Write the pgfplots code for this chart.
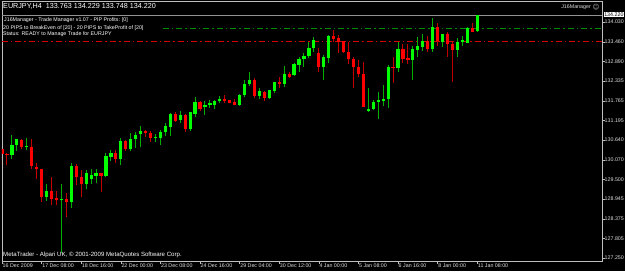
\documentclass[border=0pt]{standalone}
\usepackage{fontspec}
\setmainfont{Liberation Sans}
\newfontfamily\dejavu{DejaVu Sans}
\usepackage{pgfplots}
\pgfplotsset{compat=1.18}
\usepackage{pgfplotstable}
\definecolor{fg}{RGB}{225,225,225}
\definecolor{framec}{RGB}{190,190,190}
\definecolor{bullbody}{RGB}{0,255,0}
\definecolor{bullwick}{RGB}{0,175,0}
\definecolor{bearbody}{RGB}{255,0,0}
\definecolor{bearwick}{RGB}{195,0,0}
\definecolor{tpgreen}{RGB}{0,140,0}
\definecolor{slred}{RGB}{215,0,0}

\pgfplotstableread{
i O H L C
2 130.209 130.775 130.085 130.496
3 130.488 130.677 130.332 130.660
5 130.439 130.689 130.344 130.467
9 129.011 129.376 128.896 129.175
12 128.907 129.376 127.393 128.945
14 128.859 129.988 128.695 129.893
17 129.376 129.778 129.223 129.683
18 129.519 129.798 129.376 129.634
19 129.614 129.798 129.396 129.700
21 129.614 130.258 129.568 130.189
22 130.160 130.353 130.045 130.275
24 130.094 130.689 129.922 130.611
26 130.381 130.832 130.332 130.669
27 130.660 130.878 130.419 130.783
28 130.812 131.051 130.430 130.898
31 130.689 130.812 130.582 130.735
32 130.697 130.927 130.505 130.878
33 130.861 131.137 130.755 131.042
34 131.013 131.407 130.755 131.378
36 131.206 131.473 131.120 131.358
38 130.947 131.453 130.898 131.436
39 131.395 131.867 131.292 131.732
41 131.579 131.769 131.358 131.654
42 131.645 131.789 131.551 131.694
43 131.654 131.789 131.522 131.769
44 131.752 131.904 131.711 131.826
48 131.654 131.953 131.625 131.933
49 131.924 132.364 131.884 132.249
50 132.240 132.593 132.191 132.364
52 131.904 132.142 131.826 132.048
54 131.838 132.076 131.809 132.076
55 132.056 132.306 131.981 132.306
57 132.249 132.774 132.162 132.536
59 132.499 132.843 132.479 132.823
60 132.795 133.033 132.585 132.976
61 132.967 133.148 132.728 133.062
62 133.062 133.464 132.987 133.283
63 133.274 133.590 133.177 133.513
65 132.746 133.082 132.364 133.033
66 133.004 133.656 132.843 133.628
74 131.473 132.125 131.436 131.530
75 131.522 131.789 131.502 131.723
76 131.740 132.010 131.243 131.780
77 131.769 132.220 131.625 131.809
78 131.809 132.795 131.568 132.728
80 132.700 133.464 132.602 133.246
83 132.938 133.340 132.364 133.246
84 133.226 133.590 133.033 133.349
85 133.320 133.677 133.197 133.484
87 133.246 134.136 133.177 133.886
89 133.447 133.690 133.320 133.685
92 133.226 133.579 133.033 133.464
93 133.464 133.628 133.340 133.513
94 133.435 133.895 133.418 133.866
96 133.763 134.229 133.748 134.220
}\bull

\pgfplotstableread{
i O H L C
0 130.373 130.447 129.913 130.238
1 130.246 130.275 129.930 130.209
4 130.640 130.660 130.373 130.430
6 130.447 130.669 129.798 129.893
7 129.855 129.970 129.528 129.798
8 129.807 129.815 128.867 129.011
10 129.183 129.585 128.772 128.936
11 128.965 129.175 128.772 128.925
13 128.945 129.108 128.436 128.859
15 129.893 129.950 129.347 129.568
16 129.585 129.778 129.002 129.367
20 129.692 129.700 129.154 129.614
23 130.275 130.353 129.988 130.094
25 130.611 130.640 130.332 130.390
29 130.898 130.927 130.717 130.841
30 130.832 130.898 130.582 130.706
35 131.387 131.453 131.157 131.194
37 131.358 131.378 130.861 130.947
40 131.732 131.769 131.482 131.522
45 131.826 131.933 131.694 131.752
46 131.789 131.800 131.694 131.703
47 131.740 131.826 131.637 131.654
51 132.364 132.421 131.838 131.904
53 132.027 132.035 131.760 131.846
56 132.306 132.458 132.125 132.249
58 132.545 132.585 132.430 132.458
64 133.131 133.274 132.602 132.746
67 133.628 133.800 133.464 133.542
68 133.579 133.656 133.131 133.447
69 133.475 133.493 133.148 133.177
70 133.177 133.464 132.815 132.958
71 132.958 133.033 132.125 132.728
72 132.746 132.938 132.458 132.536
73 132.536 132.872 131.579 131.597
79 132.746 133.033 132.269 132.700
81 133.246 133.389 132.843 132.967
82 132.987 133.389 132.815 132.930
86 133.484 133.628 133.177 133.246
88 133.886 133.993 133.349 133.484
90 133.685 133.751 133.033 133.389
91 133.389 133.447 132.315 133.226
95 133.866 133.993 133.734 133.751
}\bear

\begin{document}
\begin{tikzpicture}[x=1pt,y=1pt]
\fill[black] (0,0) rectangle (625,271);
\begin{axis}[
  at={(2pt,10pt)}, anchor=south west,
  scale only axis, width=600pt, height=260pt,
  xmin=0, xmax=121.2, ymin=127.163, ymax=134.633,
  axis line style={framec, line width=0.8pt},
  tick align=outside, major tick length=2.5pt,
  tick style={framec, line width=0.6pt},
  xtick pos=bottom, ytick pos=right, yticklabel pos=right,
  xtick={0,8,16,24,32,40,48,56,64,72,80,88,96},
  xticklabels={16 Dec 2009, 17 Dec 08:00, 18 Dec 16:00, 22 Dec 00:00, 23 Dec 08:00, 24 Dec 16:00, 29 Dec 04:00, 30 Dec 12:00, 4 Jan 00:00, 5 Jan 08:00, 6 Jan 16:00, 8 Jan 00:00, 11 Jan 08:00},
  xticklabel style={anchor=north west, font=\fontsize{5.3}{6}\selectfont, text=fg, inner sep=0pt, xshift=0.5pt},
  ytick={127.250,127.805,128.375,128.945,129.500,130.070,130.640,131.195,131.765,132.335,132.890,133.460,134.030},
  yticklabels={127.250,127.805,128.375,128.945,129.500,130.070,130.640,131.195,131.765,132.335,132.890,133.460,134.030},
  yticklabel style={anchor=west, font=\fontsize{5.3}{6}\selectfont, text=fg, inner sep=0pt},
]
% horizontal lines
\addplot[gray!85, line width=0.8pt, forget plot] coordinates {(0,134.220) (121.2,134.220)};
\addplot[tpgreen, line width=0.9pt, dash pattern=on 6pt off 3pt on 1.5pt off 3pt, forget plot] coordinates {(32.5,133.849) (121.2,133.849)};
\addplot[slred, line width=0.9pt, dash pattern=on 6pt off 3pt on 1.5pt off 3pt, forget plot] coordinates {(0,133.460) (121.2,133.460)};
% wicks
\addplot[draw=none, mark=none, forget plot,
  error bars/.cd, y dir=plus, y explicit, error mark=none,
  error bar style={draw=bullwick, line width=1pt}]
  table[x=i, y=L, y error plus expr=\thisrow{H}-\thisrow{L}] {\bull};
\addplot[draw=none, mark=none, forget plot,
  error bars/.cd, y dir=plus, y explicit, error mark=none,
  error bar style={draw=bearwick, line width=1pt}]
  table[x=i, y=L, y error plus expr=\thisrow{H}-\thisrow{L}] {\bear};
% bodies
\addplot[draw=none, mark=none, forget plot,
  error bars/.cd, y dir=plus, y explicit, error mark=none,
  error bar style={draw=bullbody, line width=3.2pt}]
  table[x=i, y=O, y error plus expr={max(\thisrow{C}-\thisrow{O},0.03)}] {\bull};
\addplot[draw=none, mark=none, forget plot,
  error bars/.cd, y dir=plus, y explicit, error mark=none,
  error bar style={draw=bearbody, line width=3.2pt}]
  table[x=i, y=C, y error plus expr={max(\thisrow{O}-\thisrow{C},0.03)}] {\bear};
\end{axis}
% texts
\node[anchor=west, inner sep=0pt, text=white, font=\fontsize{7.2}{8}\selectfont] at (3,264.5) {EURJPY,H4\ \ 133.763 134.229 133.748 134.220};
\node[anchor=west, inner sep=0pt, text=white, font=\fontsize{5.3}{6}\selectfont] at (4,251) {J16Manager - Trade Manager v1.07 - PIP Profits: [0]};
\node[anchor=west, inner sep=0pt, text=white, font=\fontsize{5.3}{6}\selectfont] at (3,242.5) {20 PIPS to BreakEven of [20] - 20 PIPS to TakeProfit of [20]};
\node[anchor=west, inner sep=0pt, text=white, font=\fontsize{5.3}{6}\selectfont] at (3,236.5) {Status: READY to Manage Trade for EURJPY};
\node[anchor=east, inner sep=0pt, text=fg, font=\fontsize{5.3}{6}\selectfont] at (591,264) {J16Manager};
\node[anchor=west, inner sep=0pt, text=framec, font=\dejavu\fontsize{6.5}{7}\selectfont] at (592.5,264) {☺};
\node[anchor=west, inner sep=0pt, text=white, font=\fontsize{6.1}{7}\selectfont] at (3,16) {MetaTrader - Alpari UK, © 2001-2009 MetaQuotes Software Corp.};
\node[anchor=west, inner sep=0.6pt, fill=white, text=black, font=\fontsize{5.3}{6}\selectfont] at (603.5,256.3) {134.220};
\pgfresetboundingbox
\useasboundingbox (0,0) rectangle (625,271);
\end{tikzpicture}
\end{document}
